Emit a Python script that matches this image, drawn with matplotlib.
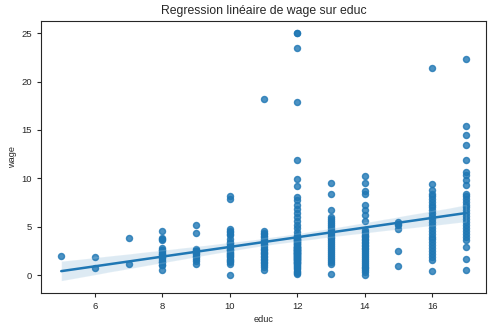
import numpy as np
import pandas as pd
import matplotlib
matplotlib.use("Agg")
import matplotlib.pyplot as plt
import seaborn as sns

# salaires horaires observés par niveau d'éducation (années)
wage_5 = [2.03]
wage_6 = [1.93, 0.80]
wage_7 = [3.89, 1.21]
wage_8 = [4.61, 3.89, 3.75, 3.62, 2.80, 2.60, 2.40, 2.58, 2.24, 2.20, 2.00,
          1.90, 1.79, 1.60, 1.40, 1.38, 1.10, 1.03, 0.59]
wage_9 = [5.17, 4.41, 2.75, 2.60, 2.48, 2.30, 2.17, 2.00, 1.85, 1.72, 1.50, 1.21]
wage_10 = [8.16, 7.85, 4.75, 4.60, 4.48, 4.30, 4.13, 3.30, 3.79, 3.00, 3.44,
           3.20, 2.93, 2.75, 2.60, 2.58, 2.40, 2.30, 2.17, 2.10, 2.00, 1.90,
           1.72, 1.60, 1.50, 1.35, 1.21, 0.07]
wage_11 = [18.15, 4.55, 4.40, 4.25, 4.10, 3.90, 3.75, 3.60, 3.40, 3.25, 3.10,
           2.90, 2.75, 2.60, 2.45, 2.30, 2.15, 2.00, 1.85, 1.70, 1.55, 1.40,
           1.25, 1.10, 0.86, 0.52]
wage_12 = [24.97, 24.97, 23.42, 17.84, 11.88, 9.92, 9.23, 8.09, 7.75,
           7.23, 6.80, 6.40, 6.00, 5.60, 5.20, 4.85, 4.50,
           4.20, 4.05, 3.90, 3.85, 3.75, 3.70, 3.65, 3.60, 3.50, 3.45, 3.40,
           3.30, 3.25, 3.20, 3.10, 3.00, 2.95, 2.90, 2.90, 2.85, 2.80, 2.75,
           2.70, 2.65, 2.60, 2.60, 2.55, 2.50, 2.45, 2.40, 2.35, 2.30, 2.25,
           2.20, 2.15, 2.10, 2.05, 2.00, 1.95, 1.90, 1.85, 1.80, 1.75, 1.70,
           1.65, 1.60, 1.55, 1.50, 1.40, 1.35, 1.30, 1.25, 1.20, 1.10, 1.00,
           0.90, 0.80, 0.60, 0.40, 0.30, 0.20, 0.10]
wage_13 = [9.57, 8.44, 6.78, 6.03, 5.80, 5.60, 5.40, 5.20, 5.00, 4.80, 4.60,
           4.40, 4.20, 4.00, 3.80, 3.60, 3.40, 3.20, 3.00, 2.80, 2.60, 2.40,
           2.20, 2.00, 1.80, 1.60, 1.40, 1.21, 0.17]
wage_14 = [10.23, 9.57, 8.68, 8.44, 7.23, 6.78, 6.20, 5.58, 4.65, 4.50, 4.35,
           4.20, 4.05, 3.90, 3.75, 3.60, 3.45, 3.30, 3.15, 3.00, 2.85, 2.70,
           2.50, 2.30, 2.10, 1.90, 1.70, 1.50, 1.30, 1.10, 0.90, 0.70, 0.50,
           0.30, 0.05]
wage_15 = [5.51, 5.30, 5.17, 4.82, 2.48, 1.00]
wage_16 = [21.35, 9.47, 8.85, 8.44, 8.20, 7.90, 7.60, 7.30, 7.00, 6.70, 6.40,
           6.10, 5.80, 5.50, 5.20, 4.90, 4.60, 4.30, 4.00, 3.70, 3.40, 3.10,
           2.80, 2.50, 2.20, 1.90, 1.55, 0.41]
wage_17 = [22.38, 15.39, 14.53, 13.50, 11.88, 10.67, 10.33, 9.81, 9.30, 8.44,
           8.20, 7.90, 7.60, 7.30, 7.00, 6.70, 6.40, 6.10, 5.80, 5.50, 5.20,
           4.90, 4.60, 4.30, 4.00, 3.62, 2.93, 1.72, 0.59]

educ_levels = [5, 6, 7, 8, 9, 10, 11, 12, 13, 14, 15, 16, 17]
wage_groups = [wage_5, wage_6, wage_7, wage_8, wage_9, wage_10, wage_11,
               wage_12, wage_13, wage_14, wage_15, wage_16, wage_17]

educ = np.concatenate([[e] * len(w) for e, w in zip(educ_levels, wage_groups)])
wage = np.concatenate(wage_groups)
df = pd.DataFrame({"educ": educ, "wage": wage})

sns.set_style("ticks")
plt.rcParams["font.family"] = ["Liberation Sans", "DejaVu Sans"]

fig = plt.figure(figsize=(4.91, 3.29), dpi=100)
ax = fig.add_axes([0.0835, 0.1094, 0.9065, 0.8266])
# nuage de points + droite des moindres carrés avec intervalle de confiance
sns.regplot(data=df, x="educ", y="wage", ax=ax, seed=0,
            scatter_kws={"s": 19}, line_kws={"linewidth": 1.8})
ax.set_title("Regression linéaire de wage sur educ", fontsize=8.8, pad=5)
ax.set_xlabel("educ", fontsize=6.6, labelpad=3)
ax.set_ylabel("wage", fontsize=6.6, labelpad=3)
ax.tick_params(labelsize=6.8, length=3, width=0.8)

fig.savefig("out.png", dpi=100)
